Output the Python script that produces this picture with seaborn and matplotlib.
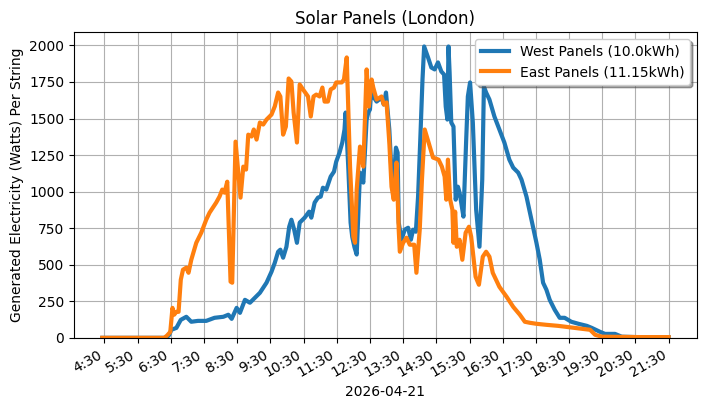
import pandas as pd
import numpy as np
import matplotlib
matplotlib.use('Agg')
import matplotlib.pyplot as plt
import matplotlib.dates as mdates
from matplotlib.ticker import FuncFormatter
import seaborn as sns

day = '2026-04-21'

west_times = ['4:26', '6:22', '6:27', '6:31', '6:40', '6:48', '6:58', '7:07', '7:19', '7:34',
              '7:49', '8:05', '8:14', '8:20', '8:29', '8:35', '8:44', '8:53', '9:02', '9:11',
              '9:23', '9:32', '9:38', '9:44', '9:48', '9:53', '9:59', '10:04', '10:08', '10:13',
              '10:18', '10:23', '10:32', '10:40', '10:44', '10:50', '10:56', '11:01', '11:05', '11:11',
              '11:19', '11:25', '11:29', '11:35', '11:40', '11:44', '11:46', '11:51', '11:55', '11:58',
              '12:02', '12:06', '12:12', '12:18', '12:24', '12:27', '12:30', '12:33', '12:36', '12:42',
              '12:51', '12:55', '12:59', '13:05', '13:09', '13:13', '13:17', '13:20', '13:22', '13:27',
              '13:33', '13:39', '13:44', '13:48', '13:53', '13:57', '14:01', '14:05', '14:08', '14:15',
              '14:21', '14:27', '14:33', '14:39', '14:44', '14:47', '14:50', '14:52', '14:54', '14:57',
              '15:01', '15:05', '15:09', '15:12', '15:15', '15:19', '15:24', '15:27', '15:31', '15:36',
              '15:42', '15:48', '15:53', '15:56', '16:00', '16:06', '16:15', '16:24', '16:33', '16:42',
              '16:49', '16:58', '17:04', '17:13', '17:22', '17:31', '17:37', '17:43', '17:49', '17:55',
              '18:04', '18:13', '18:22', '18:34', '18:47', '19:02', '19:11', '19:26', '19:35', '19:53',
              '20:05', '20:41', '21:30']
west_watts = [0, 0, 20, 55, 68, 123, 144, 110, 116, 116,
              137, 144, 158, 130, 205, 171, 260, 240, 274, 308,
              377, 452, 514, 589, 603, 548, 623, 760, 808, 740,
              650, 788, 822, 863, 822, 925, 959, 966, 1027, 1014,
              1103, 1137, 1205, 1267, 1336, 1425, 1541, 1151, 788, 690,
              620, 570, 1130, 1062, 1493, 1541, 1562, 1733, 1651, 1616,
              1644, 1596, 1678, 1425, 1130, 1082, 1301, 1267, 788, 671,
              740, 753, 671, 740, 726, 966, 1356, 1767, 1993, 1918,
              1849, 1836, 1884, 1822, 1801, 1582, 1493, 1993, 1815, 1473,
              1445, 945, 1034, 993, 925, 829, 1356, 1651, 1747, 1473,
              877, 623, 1082, 1719, 1678, 1630, 1514, 1425, 1336, 1219,
              1164, 1130, 1082, 966, 808, 650, 534, 377, 329, 260,
              192, 137, 137, 110, 96, 82, 68, 41, 27, 27,
              8, 4, 4]

east_times = ['4:26', '6:18', '6:23', '6:29', '6:33', '6:36', '6:40', '6:44', '6:48', '6:52',
              '6:58', '7:02', '7:07', '7:16', '7:25', '7:34', '7:40', '7:52', '7:58', '8:03',
              '8:07', '8:12', '8:18', '8:21', '8:27', '8:36', '8:41', '8:46', '8:50', '8:56',
              '9:00', '9:05', '9:11', '9:17', '9:23', '9:32', '9:38', '9:44', '9:48', '9:53',
              '9:58', '10:03', '10:08', '10:12', '10:18', '10:23', '10:29', '10:38', '10:43', '10:48',
              '10:53', '10:59', '11:04', '11:08', '11:14', '11:19', '11:25', '11:29', '11:39', '11:43',
              '11:48', '11:54', '12:00', '12:03', '12:06', '12:12', '12:18', '12:24', '12:28', '12:33',
              '12:36', '12:42', '12:51', '12:55', '13:00', '13:05', '13:09', '13:13', '13:18', '13:22',
              '13:24', '13:30', '13:36', '13:42', '13:50', '13:54', '14:00', '14:04', '14:09', '14:16',
              '14:24', '14:34', '14:40', '14:45', '14:48', '14:51', '14:55', '14:59', '15:01', '15:04',
              '15:07', '15:12', '15:17', '15:23', '15:29', '15:33', '15:41', '15:47', '15:54', '16:00',
              '16:06', '16:12', '16:24', '16:37', '16:49', '17:01', '17:10', '17:19', '17:31', '17:49',
              '18:10', '18:40', '19:08', '19:17', '19:29', '20:41', '21:30']
east_watts = [0, 0, 15, 40, 205, 158, 178, 178, 397, 466,
              480, 445, 534, 650, 719, 808, 856, 925, 966, 1014,
              993, 1068, 384, 377, 1342, 959, 1171, 1151, 1390, 1377,
              1425, 1356, 1473, 1459, 1493, 1527, 1584, 1678, 1651, 1390,
              1445, 1774, 1753, 1541, 1336, 1733, 1699, 1651, 1514, 1651,
              1664, 1651, 1712, 1616, 1616, 1699, 1712, 1747, 1747, 1767,
              1918, 1171, 692, 650, 1014, 1308, 1171, 1836, 1582, 1767,
              1712, 1630, 1651, 1596, 1610, 1336, 1034, 945, 1199, 740,
              589, 650, 685, 637, 637, 445, 740, 1082, 1425, 1336,
              1233, 1219, 1171, 1103, 945, 1219, 945, 877, 650, 863,
              623, 671, 534, 719, 760, 692, 418, 363, 555, 589,
              555, 445, 349, 281, 212, 158, 110, 103, 96, 89,
              82, 68, 55, 21, 8, 5, 5]

west_label = 'West Panels (10.0kWh)'
east_label = 'East Panels (11.15kWh)'

west = pd.DataFrame({'time': pd.to_datetime([day + ' ' + t for t in west_times]),
                     'watts': west_watts})
east = pd.DataFrame({'time': pd.to_datetime([day + ' ' + t for t in east_times]),
                     'watts': east_watts})

fig, ax = plt.subplots(figsize=(7.04, 4.09), dpi=100)
fig.subplots_adjust(left=0.105, right=0.99, top=0.922, bottom=0.174)

sns.lineplot(data=west, x='time', y='watts', ax=ax, color='#1f77b4', linewidth=3, label=west_label)
sns.lineplot(data=east, x='time', y='watts', ax=ax, color='#ff7f0e', linewidth=3, label=east_label)

ax.set_ylim(bottom=0)
ax.xaxis.set_major_locator(mdates.MinuteLocator(byminute=30))
ax.xaxis.set_major_formatter(FuncFormatter(
    lambda v, pos: '{}:{:02d}'.format(mdates.num2date(v).hour, mdates.num2date(v).minute)))
plt.setp(ax.get_xticklabels(), rotation=30, ha='right')

ax.grid(True)
ax.set_title('Solar Panels (London)')
ax.set_xlabel(day)
ax.set_ylabel('Generated Electricity (Watts) Per String')
ax.legend(loc='upper right', shadow=True)

plt.savefig('out.png', dpi=100)
